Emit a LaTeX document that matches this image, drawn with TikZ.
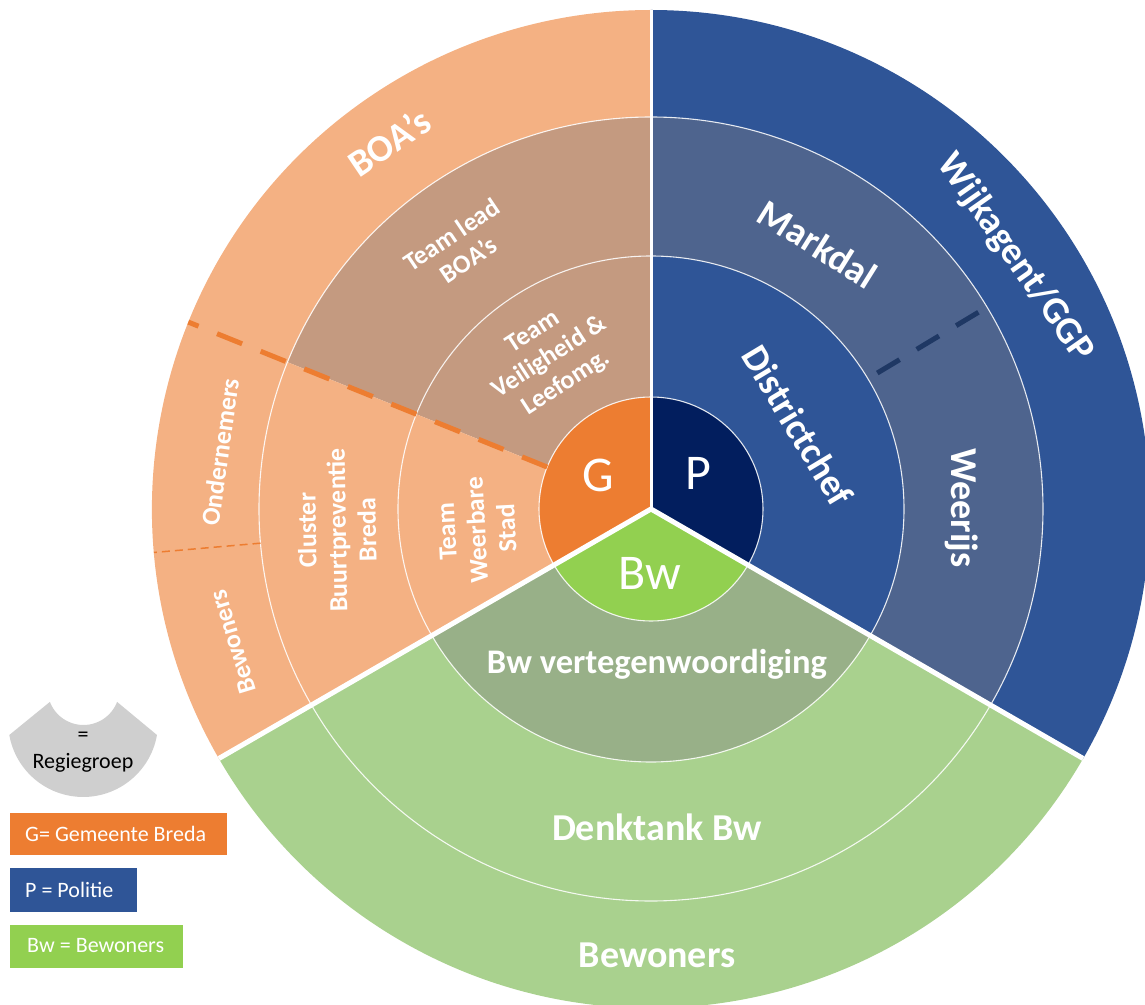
\documentclass[tikz,border=0pt]{standalone}
\usepackage{fontspec}
\setmainfont{Carlito}
\definecolor{gorange}{HTML}{ED7D31}
\definecolor{lorange}{HTML}{F4B183}
\definecolor{brownc}{HTML}{C49A80}
\definecolor{pnavy}{HTML}{021E5E}
\definecolor{pblue}{HTML}{2F5597}
\definecolor{pgray}{HTML}{4E648E}
\definecolor{dnavy}{HTML}{1F3864}
\definecolor{bgreen}{HTML}{92D050}
\definecolor{ggreen}{HTML}{98B088}
\definecolor{lgreen}{HTML}{A9D18E}
\definecolor{lgray}{HTML}{CFCFCF}
\newcommand\annsec[5]{\fill[#1] (#2:#4pt) arc[start angle=#2, end angle=#3, radius=#4pt] -- (#3:#5pt) arc[start angle=#3, end angle=#2, radius=#5pt] -- cycle;}
\tikzset{
  ringline/.style={white, opacity=0.85, line width=1.1pt},
  seprline/.style={white, line width=#1},
  center/.style={text=white, inner sep=0pt, font=\fontsize{50}{60}\selectfont},
  lbl/.style={text=white, inner sep=0pt, align=center, font=\bfseries\fontsize{26}{30}\selectfont},
  big/.style={text=white, inner sep=0pt, font=\bfseries\fontsize{38}{45}\selectfont, text height=24pt, text depth=0pt},
  mid/.style={text=white, inner sep=0pt, font=\bfseries\fontsize{34.5}{41}\selectfont, text height=22pt, text depth=0pt},
  legbox/.style={fill=#1, draw=white, line width=0.8pt},
  legtxt/.style={text=white, inner sep=0pt, anchor=west, font=\fontsize{22}{26}\selectfont},
}
\begin{document}
\begin{tikzpicture}[x=1pt,y=1pt]
\useasboundingbox (-651,-495) rectangle (494,509);
% G sector
\fill[gorange] (0,0) -- (90:112pt) arc[start angle=90, end angle=210, radius=112pt] -- cycle;
\annsec{brownc}{90}{158}{112}{253}
\annsec{lorange}{158}{210}{112}{253}
\annsec{brownc}{90}{158}{253}{392}
\annsec{lorange}{158}{210}{253}{392}
\annsec{lorange}{90}{210}{392}{499}
% P sector
\fill[pnavy] (0,0) -- (-30:112pt) arc[start angle=-30, end angle=90, radius=112pt] -- cycle;
\annsec{pblue}{-30}{90}{112}{253}
\annsec{pgray}{-30}{90}{253}{392}
\annsec{pblue}{-30}{90}{392}{499}
% Bw sector
\fill[bgreen] (0,0) -- (210:112pt) arc[start angle=210, end angle=330, radius=112pt] -- cycle;
\annsec{ggreen}{210}{330}{112}{253}
\annsec{lgreen}{210}{330}{253}{392}
\annsec{lgreen}{210}{330}{392}{499}
% ring boundaries
\foreach \r in {112,253,392} \draw[ringline] (0,0) circle[radius=\r pt];
% dashed dividers
\draw[gorange, line width=5pt, dash pattern=on 27pt off 20pt] (158:112pt) -- (158:499pt);
\draw[gorange, line width=1.5pt, dash pattern=on 8pt off 5pt] (185:392pt) -- (185:499pt);
\draw[dnavy, line width=5pt, dash pattern=on 26pt off 20pt] (31:264pt) -- (31:382pt);
% sector separators
\draw[seprline=3pt] (0,0) -- (90:499pt);
\draw[seprline=5pt] (0,0) -- (210:499pt);
\draw[seprline=5pt] (0,0) -- (330:499pt);
% centre labels
\node[center] (gc) at (-53,34) {G};
\node[center] (pc) at (47,36) {P};
\node[center] (bc) at (-1,-64) {Bw};
% G sector labels
\node[big, rotate=34] (boas) at (-261,366) {BOA’s};
\node[lbl, rotate=34] (tlead) at (-191,262) {Team lead\\BOA’s};
\node[lbl, rotate=33] (tveil) at (-101,151) {Team\\Veiligheid \&\\Leefomg.};
\node[lbl, rotate=93] (tweer) at (-174,-21) {Team\\Weerbare\\Stad};
\node[lbl, rotate=91] (clus) at (-314,-21) {Cluster\\Buurtpreventie\\Breda};
\node[lbl, rotate=82] (ond) at (-431,57) {Ondernemers};
\node[lbl, rotate=107] (bewl) at (-418,-133) {Bewoners};
% P sector labels
\node[big, rotate=-59] (dist) at (146,83) {Districtchef};
\node[big, rotate=-32] (mark) at (166,264) {Markdal};
\node[big, rotate=-90] (weer) at (312,1) {Weerijs};
\node[big, rotate=-55] (wijk) at (366,252) {Wijkagent/GGP};
% Bw sector labels
\node[mid] (bwv) at (6,-153) {Bw vertegenwoordiging};
\node[big] (denk) at (6,-319) {Denktank Bw};
\node[big] (bewo) at (6,-446) {Bewoners};
% legend
\fill[lgray] (-567.5,-180) ++(201:36pt) arc[start angle=201, end angle=339, radius=36pt] -- (-494,-226) arc[start angle=-10, end angle=-170, radius=75pt] -- cycle;
\node[inner sep=0pt, font=\fontsize{22}{26}\selectfont] (leq) at (-568,-228) {=};
\node[inner sep=0pt, font=\fontsize{22}{26}\selectfont] (lreg) at (-568,-254) {Regiegroep};
\draw[legbox=gorange] (-642,-303) rectangle (-424,-346);
\draw[legbox=pblue] (-642,-358) rectangle (-514,-403);
\draw[legbox=bgreen] (-642,-415) rectangle (-468,-459);
\node[legtxt] (lg) at (-626,-324.5) {G= Gemeente Breda};
\node[legtxt] (lp) at (-626,-380.5) {P = Politie};
\node[legtxt] (lb) at (-624,-437) {Bw = Bewoners};
\end{tikzpicture}
\end{document}
